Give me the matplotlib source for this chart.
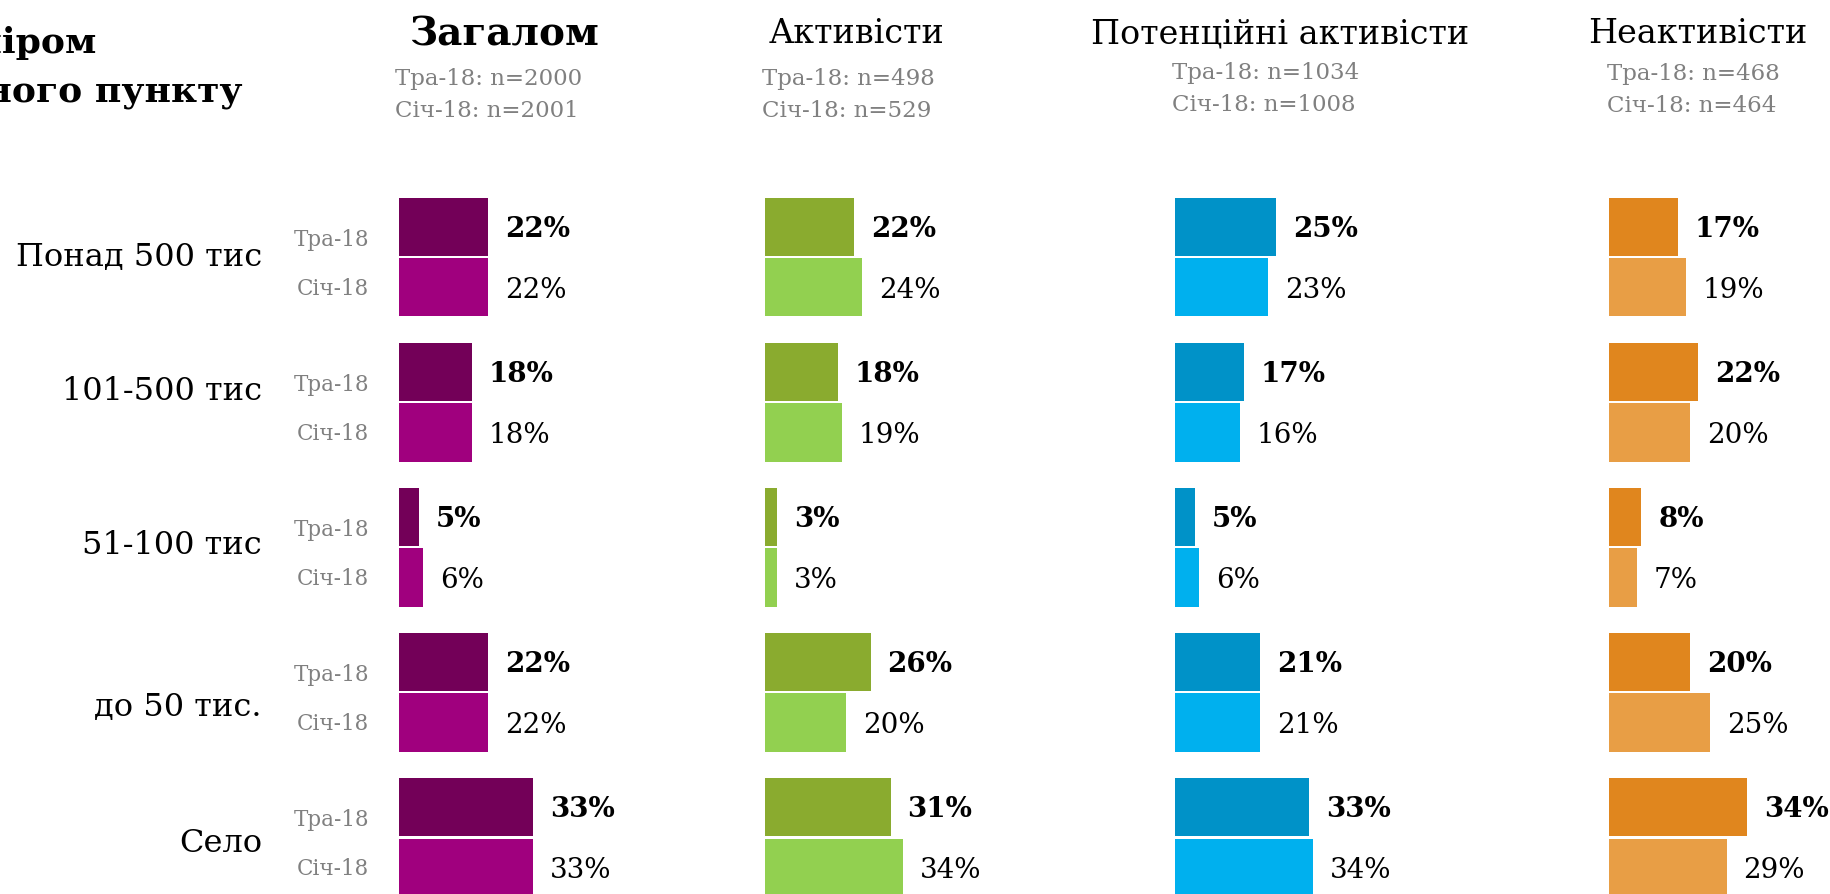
import matplotlib
matplotlib.use("Agg")
import matplotlib.pyplot as plt
from matplotlib.transforms import blended_transform_factory

plt.rcParams['font.family'] = ['DejaVu Serif']

# ---- data ----
rows = ["Понад 500 тис", "101-500 тис", "51-100 тис", "до 50 тис.", "Село"]
series = ["Тра-18", "Січ-18"]
panels = ["Загалом", "Активісти", "Потенційні активісти", "Неактивісти"]
subtitles = [
    ["Тра-18: n=2000", "Січ-18: n=2001"],
    ["Тра-18: n=498", "Січ-18: n=529"],
    ["Тра-18: n=1034", "Січ-18: n=1008"],
    ["Тра-18: n=468", "Січ-18: n=464"],
]
zagalom_tra = [22, 18, 5, 22, 33]
zagalom_sich = [22, 18, 6, 22, 33]
aktyv_tra = [22, 18, 3, 26, 31]
aktyv_sich = [24, 19, 3, 20, 34]
potents_tra = [25, 17, 5, 21, 33]
potents_sich = [23, 16, 6, 21, 34]
neaktyv_tra = [17, 22, 8, 20, 34]
neaktyv_sich = [19, 20, 7, 25, 29]

values = [
    (zagalom_tra, zagalom_sich),
    (aktyv_tra, aktyv_sich),
    (potents_tra, potents_sich),
    (neaktyv_tra, neaktyv_sich),
]
colors = [
    ("#730058", "#A0007E"),
    ("#8AAB2F", "#92D050"),
    ("#0092C8", "#00B0EE"),
    ("#E0861E", "#E89E45"),
]

# ---- layout (pixels) ----
W, H = 1831, 894
fig = plt.figure(figsize=(W / 100, H / 100), dpi=100)
row0 = 257.0      # pixel y of first row center
pitch = 145.1     # pixels per row
px_per_pct = 4.06
bar_left = [399, 765, 1175, 1609]
ax_w = 300
bar_h = 0.402
off = 0.209
y_top = -row0 / pitch
y_bot = (H - row0) / pitch

title_cx = [504, 857, 1280, 1698]
title_bold = [True, False, False, False]
sub_x = [395, 762, 1172, 1607]
sub_y = [(79, 111), (79, 111), (73, 105), (74, 106)]

axes = []
for i in range(4):
    ax = fig.add_axes([bar_left[i] / W, 0, ax_w / W, 1])
    ax.set_xlim(0, ax_w / px_per_pct)
    ax.set_ylim(y_bot, y_top)
    ax.axis("off")
    tra, sich = values[i]
    ys = list(range(len(rows)))
    ax.barh([y - off for y in ys], tra, height=bar_h, color=colors[i][0],
            edgecolor="none")
    ax.barh([y + off for y in ys], sich, height=bar_h, color=colors[i][1],
            edgecolor="none")
    for y, v in zip(ys, tra):
        ax.annotate(f"{v}%", xy=(v, y - off), xytext=(12, -2),
                    textcoords="offset points", ha="left", va="center",
                    fontsize=20, fontweight="bold", color="black")
    for y, v in zip(ys, sich):
        ax.annotate(f"{v}%", xy=(v, y + off), xytext=(12, -2),
                    textcoords="offset points", ha="left", va="center",
                    fontsize=20, color="black")
    axes.append(ax)

    fig.text(title_cx[i] / W, 1 - 34 / H, panels[i], ha="center", va="center",
             fontsize=28 if title_bold[i] else 24,
             fontweight="bold" if title_bold[i] else "normal", color="black")
    for k in range(2):
        fig.text(sub_x[i] / W, 1 - sub_y[i][k] / H, subtitles[i][k],
                 ha="left", va="center", fontsize=16.5, color="#808080")

# row labels and series labels on the left
tr = blended_transform_factory(fig.transFigure, axes[0].transData)
row_lab_dy = [0, -11, -2, 15, 6]
for r, name in enumerate(rows):
    fig.text(262 / W, r + row_lab_dy[r] / pitch, name, transform=tr,
             ha="right", va="center", fontsize=23, color="black")
    fig.text(369 / W, r - 17 / pitch, series[0], transform=tr,
             ha="right", va="center", fontsize=15.5, color="#808080")
    fig.text(369 / W, r + 32 / pitch, series[1], transform=tr,
             ha="right", va="center", fontsize=15.5, color="#808080")

# left header (partially cut by the frame)
fig.text(96 / W, 1 - 43 / H, "За розміром", ha="right", va="center",
         fontsize=26, fontweight="bold", color="black")
fig.text(243 / W, 1 - 93 / H, "населеного пункту", ha="right", va="center",
         fontsize=26, fontweight="bold", color="black")

fig.savefig("out.png", dpi=100)
